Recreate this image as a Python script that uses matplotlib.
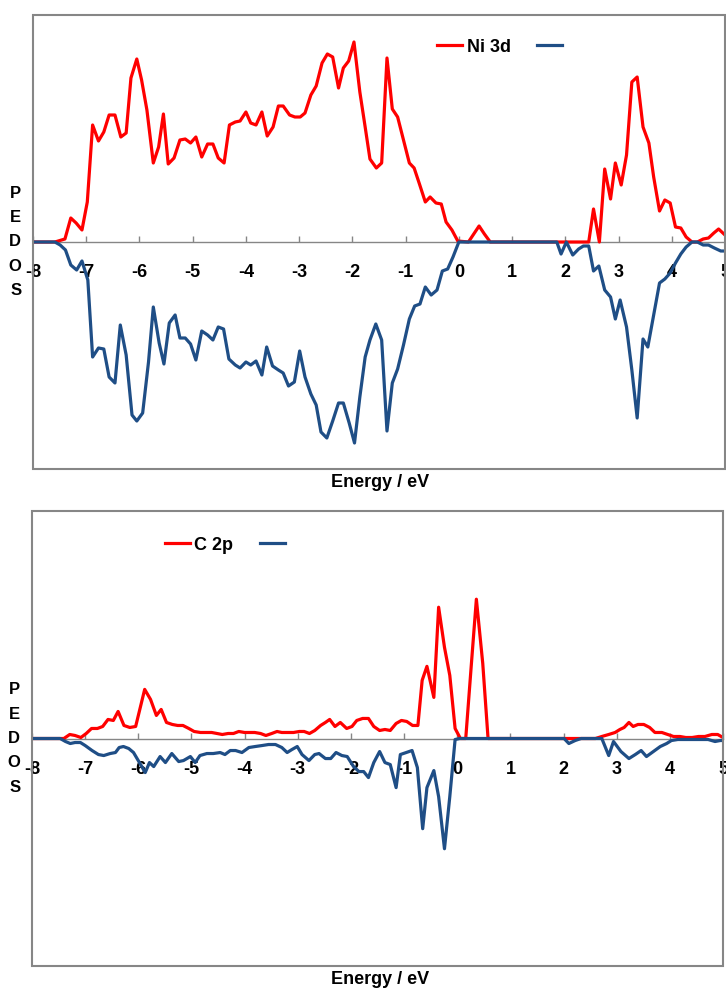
import matplotlib
matplotlib.use("Agg")
import matplotlib.pyplot as plt
from matplotlib.patches import Rectangle

plt.rcParams['font.family'] = ['Liberation Sans', 'DejaVu Sans']

# ---------------- data (arbitrary DOS units) ----------------
ni_up_E = [-8.0, -7.59, -7.40, -7.29, -7.19, -7.08, -6.98, -6.88, -6.77, -6.67, -6.57, -6.46, -6.35, -6.25,
           -6.16, -6.05, -5.96, -5.86, -5.74, -5.64, -5.55, -5.46, -5.35, -5.24, -5.14, -5.04, -4.94, -4.83,
           -4.72, -4.62, -4.52, -4.41, -4.31, -4.20, -4.11, -4.00, -3.91, -3.81, -3.70, -3.60, -3.49, -3.39,
           -3.30, -3.18, -3.08, -2.98, -2.89, -2.78, -2.68, -2.57, -2.47, -2.37, -2.26, -2.17, -2.07, -1.97,
           -1.86, -1.76, -1.67, -1.55, -1.45, -1.35, -1.25, -1.15, -1.04, -0.93, -0.84, -0.74, -0.63, -0.54,
           -0.43, -0.33, -0.24, -0.13, -0.02, 0.18, 0.38, 0.48, 0.59, 1.87, 2.44, 2.53, 2.64, 2.74, 2.85, 2.94,
           3.05, 3.15, 3.25, 3.35, 3.46, 3.57, 3.66, 3.77, 3.87, 3.97, 4.07, 4.17, 4.27, 4.38, 4.48, 4.59,
           4.69, 4.79, 4.88, 5.0]
ni_up = [0, 0, 3, 24, 19, 12, 40, 117, 101, 110, 127, 127, 105, 109,
         164, 183, 162, 132, 79, 95, 128, 78, 84, 102, 103, 99, 105, 85,
         98, 98, 84, 79, 117, 120, 121, 130, 119, 117, 130, 106, 115, 136,
         136, 127, 125, 125, 129, 147, 156, 179, 188, 185, 154, 174, 181, 200,
         150, 115, 83, 74, 79, 184, 133, 125, 102, 79, 74, 58, 40, 45,
         39, 38, 20, 12, 1, 0, 16, 8, 0, 0, 0, 33, 0, 73, 43, 79,
         57, 87, 160, 165, 115, 99, 65, 31, 42, 39, 15, 14, 5, 0, 0, 3,
         4, 9, 13, 7]

ni_dn_E = [-8.0, -7.59, -7.49, -7.39, -7.29, -7.18, -7.08, -6.97, -6.88, -6.77, -6.67, -6.57, -6.46, -6.36,
           -6.25, -6.14, -6.05, -5.94, -5.83, -5.74, -5.63, -5.54, -5.44, -5.33, -5.24, -5.14, -5.04, -4.94,
           -4.83, -4.72, -4.62, -4.52, -4.42, -4.32, -4.20, -4.11, -4.00, -3.91, -3.81, -3.70, -3.61, -3.50,
           -3.39, -3.30, -3.20, -3.09, -2.99, -2.89, -2.78, -2.68, -2.59, -2.48, -2.37, -2.26, -2.17, -2.06,
           -1.96, -1.86, -1.76, -1.67, -1.56, -1.45, -1.35, -1.25, -1.15, -1.04, -0.93, -0.83, -0.73, -0.63,
           -0.52, -0.41, -0.31, -0.21, -0.11, 0.0, 1.84, 1.92, 2.02, 2.14, 2.25, 2.34, 2.44, 2.53, 2.63, 2.74,
           2.85, 2.94, 3.03, 3.15, 3.25, 3.35, 3.46, 3.55, 3.66, 3.77, 3.87, 3.97, 4.07, 4.17, 4.27, 4.38,
           4.48, 4.59, 4.69, 4.80, 4.92, 5.0]
ni_dn = [0, 0, -3, -8, -23, -28, -19, -38, -115, -106, -107, -135, -141, -83,
         -113, -173, -179, -171, -120, -65, -101, -122, -81, -73, -96, -96, -102, -118,
         -89, -93, -98, -85, -87, -117, -123, -126, -120, -123, -119, -133, -105, -124,
         -128, -131, -144, -140, -109, -135, -152, -163, -190, -196, -179, -161, -161, -181,
         -201, -155, -115, -98, -82, -98, -189, -141, -127, -103, -77, -64, -62, -45,
         -53, -48, -29, -27, -15, 0, 0, -12, 0, -13, -7, -4, -4, -29, -24, -48,
         -55, -77, -58, -85, -128, -176, -97, -105, -73, -41, -37, -31, -21, -12, -5, 0,
         0, -3, -3, -6, -9, -9]

c_up_E = [-8.0, -7.59, -7.40, -7.29, -7.19, -7.08, -6.98, -6.88, -6.77, -6.67, -6.57, -6.47, -6.38, -6.27,
          -6.16, -6.05, -5.88, -5.77, -5.66, -5.57, -5.47, -5.36, -5.26, -5.16, -5.05, -4.95, -4.83, -4.73,
          -4.62, -4.52, -4.42, -4.31, -4.21, -4.11, -4.00, -3.91, -3.81, -3.70, -3.60, -3.49, -3.39, -3.30,
          -3.20, -3.08, -2.97, -2.88, -2.78, -2.68, -2.57, -2.48, -2.40, -2.30, -2.20, -2.08, -1.98, -1.89,
          -1.78, -1.67, -1.57, -1.46, -1.36, -1.26, -1.15, -1.05, -0.95, -0.84, -0.74, -0.66, -0.57, -0.44,
          -0.35, -0.24, -0.14, -0.04, 0.06, 0.16, 0.26, 0.36, 0.48, 0.58, 2.60, 2.72, 2.85, 2.97, 3.06, 3.14,
          3.23, 3.31, 3.40, 3.51, 3.62, 3.72, 3.85, 3.96, 4.07, 4.19, 4.30, 4.42, 4.54, 4.66, 4.79, 4.90, 5.0]
c_up = [0, 0, 0, 4, 3, 1, 5, 10, 10, 12, 19, 18, 27, 13,
        11, 12, 49, 39, 23, 29, 16, 14, 13, 13, 10, 7, 6, 6,
        6, 5, 4, 5, 5, 7, 6, 6, 6, 5, 3, 5, 7, 6,
        6, 6, 7, 7, 5, 8, 13, 16, 19, 12, 16, 10, 12, 18,
        20, 20, 12, 8, 9, 8, 15, 18, 17, 13, 13, 58, 72, 41,
        131, 91, 63, 10, 0, 0, 70, 139, 75, 0, 0, 2, 4, 6, 9, 11,
        16, 12, 14, 14, 11, 6, 6, 4, 2, 2, 1, 1, 2, 2, 4, 4, 1]

c_dn_E = [-8.0, -7.47, -7.37, -7.28, -7.19, -7.09, -7.00, -6.87, -6.75, -6.65, -6.53, -6.43, -6.36, -6.28,
          -6.18, -6.09, -5.99, -5.87, -5.79, -5.71, -5.59, -5.49, -5.37, -5.24, -5.15, -5.02, -4.93, -4.84,
          -4.71, -4.59, -4.46, -4.37, -4.27, -4.17, -4.05, -3.92, -3.80, -3.67, -3.55, -3.42, -3.30, -3.20,
          -3.11, -3.01, -2.92, -2.79, -2.68, -2.60, -2.48, -2.38, -2.28, -2.17, -2.07, -1.95, -1.85, -1.76,
          -1.67, -1.57, -1.46, -1.36, -1.26, -1.15, -1.07, -0.96, -0.85, -0.75, -0.65, -0.57, -0.44, -0.35,
          -0.24, -0.14, -0.04, 0.05, 2.01, 2.10, 2.22, 2.33, 2.72, 2.85, 2.94, 3.08, 3.23, 3.35, 3.46, 3.56,
          3.69, 3.82, 3.94, 4.03, 4.15, 4.50, 4.72, 4.85, 4.95, 5.0]
c_dn = [0, 0, -3, -5, -4, -4, -7, -12, -16, -17, -15, -14, -9, -8,
        -10, -14, -23, -34, -24, -28, -18, -24, -15, -23, -22, -18, -24, -17,
        -15, -15, -14, -16, -12, -12, -14, -9, -8, -7, -6, -6, -9, -14,
        -11, -8, -16, -22, -16, -15, -20, -20, -14, -17, -18, -28, -33, -33,
        -39, -24, -13, -24, -26, -49, -16, -14, -12, -29, -90, -49, -32, -58,
        -110, -58, -1, 0, 0, -5, -2, 0, 0, -17, -3, -13, -20, -16, -12, -18,
        -13, -8, -5, -2, -1, -1, -1, -3, -2, -2]

xticks = [-8, -7, -6, -5, -4, -3, -2, -1, 0, 1, 2, 3, 4, 5]

RED = '#FF0000'
BLUE = '#1F4E86'
GRAY = '#868686'

W, H = 726, 990
fig = plt.figure(figsize=(W / 100, H / 100), dpi=100)

panels = [
    (ni_up_E, ni_up, ni_dn_E, ni_dn, 'Ni 3d', [33 / W, 1 - 469 / H, 692 / W, 454 / H], (0.584, 0.929), 483),
    (c_up_E, c_up, c_dn_E, c_dn, 'C 2p', [32 / W, 1 - 966 / H, 691 / W, 455 / H], (0.192, 0.925), 980),
]

for eu, vu, ed, vd, name, rect, legpos, label_y in panels:
    ax = fig.add_axes(rect)
    l1, = ax.plot(eu, vu, color=RED, lw=2.3, zorder=3)
    l2, = ax.plot(ed, vd, color=BLUE, lw=2.3, zorder=4)
    ax.set_xlim(-8, 5)
    ax.set_ylim(-227, 227)
    for s in ['top', 'left', 'right']:
        ax.spines[s].set_visible(False)
    ax.spines['bottom'].set_position(('data', 0))
    ax.spines['bottom'].set_color(GRAY)
    ax.spines['bottom'].set_linewidth(1.0)
    ax.set_yticks([])
    ax.set_xticks(xticks)
    ax.set_xticklabels([str(t) for t in xticks], fontsize=13, fontweight='bold')
    ax.tick_params(axis='x', direction='in', length=4, width=1, color=GRAY, pad=16)
    ax.add_patch(Rectangle((0, 0), 1, 1, transform=ax.transAxes, fill=False,
                           edgecolor=GRAY, lw=1.5, clip_on=False, zorder=5))
    fig.text(380 / W, 1 - label_y / H, 'Energy / eV', ha='center', va='center',
             fontsize=13, fontweight='bold')
    ax.text(-0.017, 0.5, 'P\nE\nD\nO\nS', transform=ax.transAxes, ha='right', va='center',
            fontsize=12, fontweight='bold', linespacing=1.78)
    ax.legend([l1, l2], [name, ''], ncol=2, frameon=False, loc='center left',
              bbox_to_anchor=legpos, borderaxespad=0, borderpad=0, handlelength=1.4,
              handletextpad=0.25, columnspacing=1.45,
              prop={'size': 13, 'weight': 'bold'})

fig.savefig('out.png', dpi=100)
